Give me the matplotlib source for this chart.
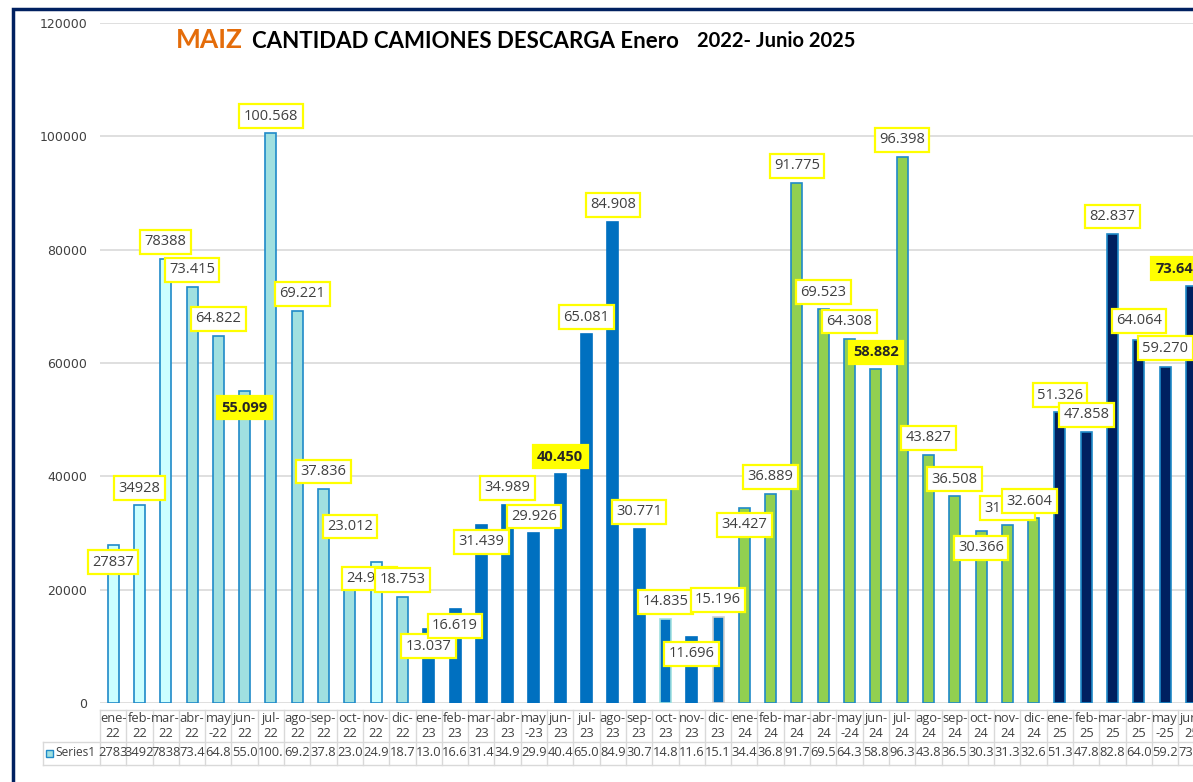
import matplotlib
matplotlib.use("Agg")
import matplotlib.pyplot as plt
import matplotlib.transforms as mtransforms
from matplotlib.patches import Rectangle

# ---------------- data ----------------
months = ["ene-\n22", "feb-\n22", "mar-\n22", "abr-\n22", "may\n-22", "jun-\n22", "jul-\n22", "ago-\n22",
          "sep-\n22", "oct-\n22", "nov-\n22", "dic-\n22",
          "ene-\n23", "feb-\n23", "mar-\n23", "abr-\n23", "may\n-23", "jun-\n23", "jul-\n23", "ago-\n23",
          "sep-\n23", "oct-\n23", "nov-\n23", "dic-\n23",
          "ene-\n24", "feb-\n24", "mar-\n24", "abr-\n24", "may\n-24", "jun-\n24", "jul-\n24", "ago-\n24",
          "sep-\n24", "oct-\n24", "nov-\n24", "dic-\n24",
          "ene-\n25", "feb-\n25", "mar-\n25", "abr-\n25", "may\n-25", "jun-\n25"]
values = [27837, 34928, 78388, 73415, 64822, 55099, 100568, 69221, 37836, 23012, 24950, 18753,
          13037, 16619, 31439, 34989, 29926, 40450, 65081, 84908, 30771, 14835, 11696, 15196,
          34427, 36889, 91775, 69523, 64308, 58882, 96398, 43827, 36508, 30366, 31350, 32604,
          51326, 47858, 82837, 64064, 59270, 73647]
plain_labels = [0, 1, 2]          # labels shown without thousands separator
highlight = [5, 17, 29, 41]       # June values highlighted
yticks = [0, 20000, 40000, 60000, 80000, 100000, 120000]
series_name = "Series1"

# ---------------- style ----------------
C_LCYAN = "#CCFFFF"
C_TEAL = "#A0E0E0"
C_BLUE = "#0070C0"
C_GREEN = "#92D050"
C_NAVY = "#002060"
EDGE = "#1F8AC8"

face = ([C_LCYAN] * 3 + [C_TEAL] * 7 + [C_LCYAN] + [C_TEAL] +
        [C_BLUE] * 12 + [C_GREEN] * 12 + [C_NAVY] * 6)
edge = ([EDGE] * 12 + [C_BLUE] * 9 + [C_TEAL] + [C_BLUE] + ["#D0D0D0"] +
        [EDGE] * 12 + [EDGE] * 6)

# label offsets (dx in category units, dy in pixels, positive = up)
label_dx = [0.0] * 42
label_dy = [17] * 42
for i in [0, 5, 10, 12, 13, 14, 22, 24, 33]:
    label_dy[i] = -17
label_dy[9] = 46
label_dx[7] = 0.2
label_dx[10] = -0.25
label_dx[35] = -0.15
label_dx[41] = -0.5
label_dy[39] = 19
label_dy[40] = 19

W, H = 1193, 782
fig = plt.figure(figsize=(W / 100, H / 100), dpi=100)
ax = fig.add_axes([100 / W, (H - 703) / H, 1104.6 / W, 680 / H])
FONT = "Open Sans"
plt.rcParams["font.family"] = [FONT, "DejaVu Sans"]

n = len(values)
x = list(range(n))
ax.bar(x, values, width=0.42, color=face, edgecolor=edge, linewidth=1.2, zorder=2)
ax.set_xlim(-0.5, n - 0.5)
ax.set_ylim(0, 120000)
ax.set_yticks(yticks)
ax.set_yticklabels([str(v) for v in yticks], fontsize=9, color="#404040")
ax.tick_params(axis="y", length=0, pad=9)
ax.tick_params(axis="x", length=0, labelbottom=False)
for s in ax.spines.values():
    s.set_visible(False)
ax.grid(axis="y", color="#D9D9D9", linewidth=1.2, zorder=0)
ax.set_axisbelow(True)


def fmt(i, v):
    if i in plain_labels:
        return str(v)
    return f"{v:,}".replace(",", ".")


labels = [fmt(i, v) for i, v in enumerate(values)]

for i, v in enumerate(values):
    hl = i in highlight
    trans = mtransforms.offset_copy(ax.transData, fig=fig, x=0, y=label_dy[i], units="dots")
    ax.text(i + label_dx[i], v, labels[i], transform=trans, ha="center", va="center",
            fontsize=10.5, color="#262626" if hl else "#404040",
            fontweight="bold" if hl else "normal", zorder=5,
            bbox=dict(boxstyle="square,pad=0.3", facecolor="#FFFF00" if hl else "white",
                      edgecolor="#FFFF00", linewidth=1.6))

# ---------------- data table ----------------
bt = mtransforms.blended_transform_factory(ax.transData, fig.transFigure)
ft = fig.transFigure


def fy(py):
    return 1 - py / H


lc = "#D9D9D9"
for i in range(n):
    ax.text(i, fy(726), months[i], transform=bt, ha="center", va="center", fontsize=9.3,
            color="#404040", linespacing=1.2, clip_on=False)
    ax.text(i, fy(753), labels[i][:4], transform=bt, ha="center", va="center", fontsize=9.3,
            color="#404040", clip_on=False)
for i in range(n + 1):
    xb = i - 0.5
    ax.plot([xb, xb], [fy(710), fy(765)], transform=bt, color=lc, lw=1.0, clip_on=False)
ax.plot([-0.5, n], [fy(710), fy(710)], transform=bt, color=lc, lw=1.0, clip_on=False)
fig.lines.append(plt.Line2D([43 / W, 1.05], [fy(742), fy(742)], transform=ft, color=lc, lw=1.0))
fig.lines.append(plt.Line2D([43 / W, 1.05], [fy(765), fy(765)], transform=ft, color=lc, lw=1.0))
fig.lines.append(plt.Line2D([43 / W, 43 / W], [fy(742), fy(765)], transform=ft, color=lc, lw=1.0))
fig.patches.append(Rectangle((46 / W, fy(757)), 7 / W, 7 / H, transform=ft,
                             facecolor=C_TEAL, edgecolor=EDGE, linewidth=1.0))
fig.text(55 / W, fy(753), series_name, ha="left", va="center", fontsize=8.6, color="#404040")

# ---------------- title ----------------
fig.text(176 / W, fy(40), "MAIZ", ha="left", va="center", fontsize=19, fontweight="bold",
         color="#E46C0A", family="Lato")
fig.text(252 / W, fy(41), "CANTIDAD CAMIONES DESCARGA Enero", ha="left", va="center",
         fontsize=16, fontweight="bold", color="black", family="Lato")
fig.text(697 / W, fy(41), "2022- Junio 2025", ha="left", va="center",
         fontsize=14.5, fontweight="bold", color="black", family="Lato")

# ---------------- frame ----------------
fig.patches.append(Rectangle((13 / W, -0.1), 1.2, 1.1 - 9 / H, transform=ft,
                             facecolor="none", edgecolor=C_NAVY, linewidth=2.5))

fig.savefig("out.png", dpi=100)
